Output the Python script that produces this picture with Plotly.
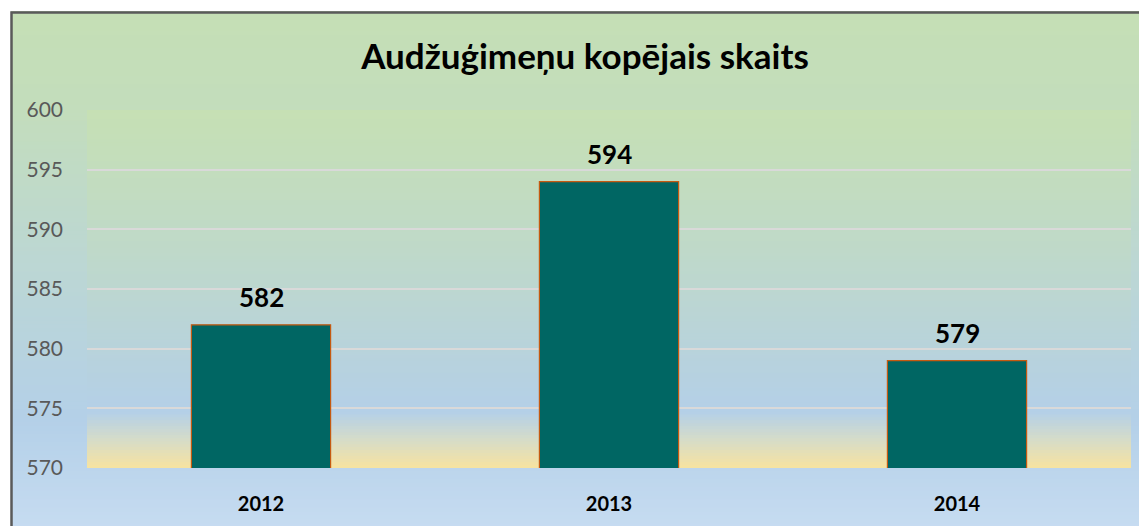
import plotly.graph_objects as go

years = ["2012", "2013", "2014"]
counts = [582, 594, 579]
title_text = "Audžuģimeņu kopējais skaits"
y_ticks = [570, 575, 580, 585, 590, 595, 600]

OFF = 8  # page body margin
W, H = 1147, 526
# desired plot area in screenshot pixels: x 87..1131, y 110..468
ML = 87 - OFF
MT = 110 - OFF
MR = W - (1131 - OFF)
MB = H - (468 - OFF)
PW = W - ML - MR
PH = H - MT - MB


def px_x(px):
    return (px - OFF - ML) / PW


def px_y(py):
    return (H - MB - (py - OFF)) / PH


def hex2rgb(h):
    h = h.lstrip("#")
    return [int(h[i:i + 2], 16) for i in (0, 2, 4)]


def interp(stops, t):
    for (t0, c0), (t1, c1) in zip(stops, stops[1:]):
        if t0 <= t <= t1:
            f = 0 if t1 == t0 else (t - t0) / (t1 - t0)
            a, b = hex2rgb(c0), hex2rgb(c1)
            return "rgb(%d,%d,%d)" % tuple(round(a[i] + (b[i] - a[i]) * f) for i in range(3))
    return stops[-1][1]


shapes = []
outer_stops = [(11, "#c5dfb5"), (110, "#c3ddbc"), (260, "#bcd7d3"), (420, "#b4d0e8"), (540, "#c8ddf2")]
top, bot = 11, 540
n = 130
step = (bot - top) / n
for i in range(n):
    y0 = top + i * step
    y1 = y0 + step + 0.8
    c = interp(outer_stops, y0 + step / 2)
    shapes.append(dict(type="rect", xref="paper", yref="paper", layer="below",
                       x0=px_x(11), x1=px_x(1170), y0=px_y(min(y1, 545)), y1=px_y(y0),
                       fillcolor=c, line=dict(width=0)))

plot_stops = [(110, "#c6e0b4"), (250, "#bfd9c9"), (380, "#b6d1e1"), (412, "#b4d0e8"), (440, "#d6dcc8"), (468, "#f7e3a0")]
top, bot = 110, 468
n = 120
step = (bot - top) / n
for i in range(n):
    y0 = top + i * step
    y1 = y0 + step + 0.8
    c = interp(plot_stops, y0 + step / 2)
    shapes.append(dict(type="rect", xref="paper", yref="paper", layer="below",
                       x0=0, x1=1, y0=px_y(min(y1, bot)), y1=px_y(y0),
                       fillcolor=c, line=dict(width=0)))

shapes.append(dict(type="rect", xref="paper", yref="paper", layer="above",
                   x0=px_x(11.5), x1=px_x(1180), y0=px_y(560), y1=px_y(12.5),
                   fillcolor="rgba(0,0,0,0)", line=dict(width=2.5, color="#5a5a5a")))

fig = go.Figure()
fig.add_trace(go.Bar(
    x=years, y=counts,
    marker=dict(color="#006663", line=dict(color="#c55a11", width=1.2)),
    width=0.4,
))

# category axis: annotation x given as category index
for i, v in enumerate(counts):
    fig.add_annotation(x=i, y=v, text="<b>%d</b>" % v, showarrow=False,
                       yanchor="middle", yshift=28,
                       font=dict(family="Lato, sans-serif", size=26, color="#000000"))

fig.update_layout(
    width=W, height=H,
    margin=dict(l=ML, r=MR, t=MT, b=MB),
    paper_bgcolor="white",
    plot_bgcolor="rgba(0,0,0,0)",
    shapes=shapes,
    showlegend=False,
    title=dict(text="<b>" + title_text + "</b>", x=px_x(585), xanchor="center",
               xref="paper",
               y=1 - (57 - OFF) / H, yanchor="middle",
               font=dict(family="Lato, sans-serif", size=35, color="#000000")),
    font=dict(family="Lato, sans-serif"),
)
fig.update_yaxes(range=[570, 600], tickvals=y_ticks, showgrid=True,
                 gridcolor="#d9d9d9", gridwidth=1.5, zeroline=False, showline=False,
                 tickfont=dict(size=21, color="#595959"), ticklabelstandoff=23)
fig.update_xaxes(type="category", categoryorder="array", categoryarray=years,
                 range=[-0.5, len(years) - 0.5],
                 showgrid=False, showline=False, zeroline=False,
                 tickfont=dict(size=20, color="#000000", weight="bold"), ticklabelstandoff=22)

fig.write_html("out.html")
